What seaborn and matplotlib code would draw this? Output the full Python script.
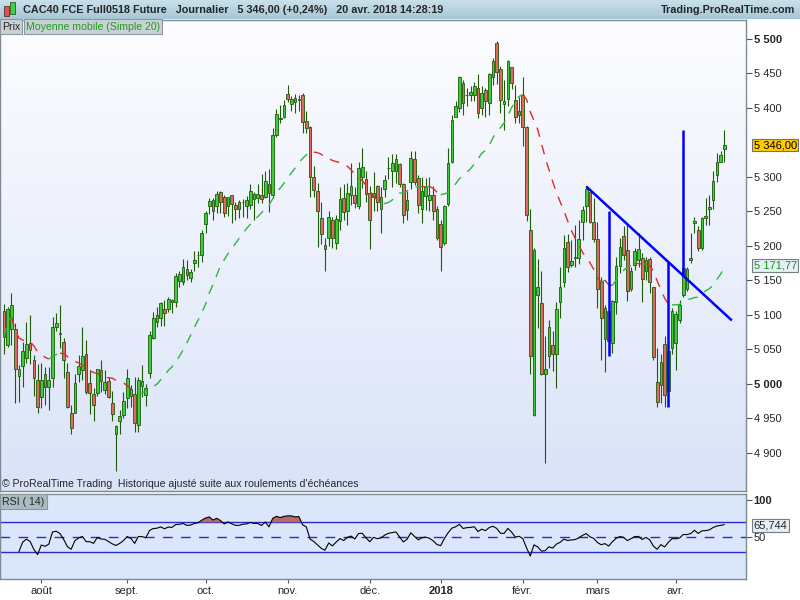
import numpy as np
import pandas as pd
import matplotlib
matplotlib.use("Agg")
import matplotlib.pyplot as plt
import seaborn as sns
from matplotlib.colors import LinearSegmentedColormap
from matplotlib.transforms import blended_transform_factory
from matplotlib.patches import Rectangle

# ---------------- data ----------------
start_date = "2017-07-18"
end_date = "2018-04-20"
holidays = ["2017-12-25", "2017-12-26", "2018-01-01", "2018-03-30", "2018-04-02"]

opens = [5105, 5057, 5079, 5079, 5012, 5026, 5037, 5059, 5034, 5006,
         4981, 5014, 4996, 5009, 5083, 5073, 5061, 5017, 4958, 4958,
         5015, 5020, 5043, 5001, 4985, 4987, 5020, 4991, 5004, 4973,
         4928, 4947, 4955, 4979, 4983, 4985, 4940, 4997, 4984, 5016,
         5066, 5090, 5095, 5108, 5109, 5119, 5118, 5149, 5147, 5166,
         5153, 5175, 5186, 5186, 5231, 5258, 5267, 5258, 5278, 5271,
         5258, 5273, 5259, 5263, 5263, 5257, 5259, 5268, 5269, 5273,
         5271, 5289, 5273, 5360, 5383, 5387, 5420, 5405, 5414, 5411,
         5419, 5381, 5372, 5300, 5280, 5241, 5201, 5212, 5238, 5204,
         5236, 5269, 5251, 5273, 5273, 5258, 5299, 5297, 5276, 5271,
         5287, 5253, 5283, 5312, 5308, 5308, 5318, 5289, 5252, 5292,
         5326, 5298, 5253, 5272, 5266, 5274, 5253, 5231, 5204, 5261,
         5321, 5387, 5400, 5436, 5418, 5419, 5418, 5428, 5399, 5426,
         5407, 5445, 5494, 5456, 5406, 5412, 5459, 5411, 5390, 5419,
         5372, 5223, 4955, 5129, 5117, 5015, 5041, 5057, 5043, 5119,
         5147, 5205, 5172, 5183, 5183, 5235, 5257, 5278, 5235, 5210,
         5147, 5065, 5105, 5059, 5118, 5171, 5214, 5194, 5137, 5172,
         5180, 5182, 5163, 5181, 5140, 5003, 4998, 5058, 4990, 5052,
         5059, 5093, 5129, 5137, 5179, 5233, 5223, 5197, 5241, 5253,
         5266, 5303, 5322, 5340]
highs = [5116, 5112, 5132, 5088, 5027, 5061, 5090, 5100, 5042, 5029,
         5030, 5024, 5024, 5097, 5103, 5114, 5066, 5031, 4969, 5015,
         5042, 5082, 5064, 5020, 4994, 5022, 5034, 5020, 5010, 4990,
         4941, 4962, 4989, 5022, 4998, 5010, 5010, 5027, 5000, 5076,
         5104, 5111, 5119, 5122, 5126, 5123, 5160, 5164, 5181, 5180,
         5166, 5192, 5192, 5223, 5251, 5269, 5269, 5279, 5279, 5274,
         5271, 5274, 5263, 5267, 5268, 5272, 5289, 5278, 5290, 5304,
         5309, 5311, 5370, 5398, 5404, 5411, 5433, 5417, 5420, 5419,
         5421, 5395, 5373, 5315, 5291, 5264, 5211, 5250, 5242, 5245,
         5285, 5290, 5291, 5320, 5285, 5321, 5341, 5308, 5286, 5307,
         5288, 5285, 5303, 5329, 5333, 5333, 5320, 5291, 5279, 5337,
         5337, 5303, 5300, 5298, 5299, 5286, 5257, 5238, 5259, 5341,
         5390, 5410, 5446, 5440, 5429, 5432, 5437, 5449, 5432, 5429,
         5450, 5472, 5496, 5460, 5440, 5469, 5459, 5433, 5416, 5444,
         5373, 5254, 5197, 5181, 5163, 5069, 5093, 5076, 5119, 5169,
         5215, 5217, 5208, 5230, 5238, 5257, 5286, 5283, 5269, 5235,
         5155, 5114, 5125, 5122, 5184, 5211, 5229, 5230, 5170, 5197,
         5218, 5189, 5184, 5184, 5141, 5052, 5044, 5069, 5060, 5110,
         5105, 5122, 5197, 5170, 5218, 5242, 5228, 5242, 5269, 5274,
         5308, 5334, 5337, 5368]
lows = [5044, 5053, 5056, 4973, 4974, 4996, 5030, 5029, 4982, 4958,
        4965, 4969, 4963, 4996, 5076, 5052, 5008, 4965, 4927, 4958,
        5003, 5006, 4986, 4957, 4947, 4982, 4989, 4986, 4979, 4947,
        4874, 4927, 4950, 4965, 4966, 4931, 4931, 4981, 4968, 5008,
        5065, 5082, 5084, 5084, 5104, 5103, 5112, 5140, 5144, 5151,
        5147, 5164, 5170, 5176, 5218, 5246, 5237, 5247, 5247, 5242,
        5243, 5233, 5238, 5240, 5242, 5241, 5253, 5237, 5262, 5262,
        5269, 5249, 5269, 5357, 5378, 5385, 5408, 5395, 5393, 5395,
        5363, 5363, 5270, 5270, 5198, 5203, 5163, 5200, 5197, 5195,
        5223, 5238, 5230, 5259, 5255, 5254, 5284, 5264, 5195, 5250,
        5251, 5219, 5271, 5297, 5285, 5291, 5285, 5233, 5238, 5283,
        5288, 5247, 5233, 5252, 5250, 5238, 5209, 5164, 5201, 5257,
        5320, 5386, 5394, 5390, 5402, 5409, 5410, 5385, 5390, 5387,
        5390, 5433, 5434, 5392, 5367, 5403, 5427, 5378, 5378, 5344,
        5236, 5014, 4954, 5081, 5013, 4886, 5023, 5019, 4994, 5095,
        5140, 5162, 5169, 5169, 5173, 5208, 5235, 5233, 5206, 5110,
        5035, 5018, 5045, 5045, 5102, 5160, 5179, 5120, 5135, 5165,
        5170, 5118, 5151, 5131, 5034, 4966, 4973, 4966, 4968, 5044,
        5020, 5088, 5126, 5134, 5175, 5218, 5192, 5194, 5230, 5230,
        5254, 5293, 5321, 5321]
closes = [5068, 5108, 5114, 5021, 5022, 5048, 5058, 5049, 5008, 4966,
          5006, 4996, 5006, 5082, 5088, 5074, 5034, 4967, 4936, 5002,
          5026, 5041, 4988, 4987, 4969, 5021, 5005, 5003, 4981, 4957,
          4939, 4954, 4975, 5008, 4992, 4944, 5006, 5004, 4994, 5071,
          5095, 5100, 5117, 5103, 5123, 5121, 5156, 5159, 5169, 5158,
          5162, 5179, 5187, 5218, 5247, 5265, 5250, 5275, 5264, 5247,
          5270, 5261, 5253, 5253, 5263, 5266, 5279, 5275, 5275, 5268,
          5294, 5276, 5361, 5391, 5385, 5404, 5412, 5412, 5408, 5412,
          5380, 5370, 5300, 5281, 5251, 5217, 5195, 5242, 5211, 5239,
          5268, 5249, 5276, 5287, 5262, 5312, 5314, 5275, 5238, 5277,
          5264, 5271, 5296, 5313, 5320, 5326, 5289, 5244, 5266, 5327,
          5293, 5259, 5280, 5285, 5274, 5250, 5211, 5198, 5258, 5320,
          5382, 5403, 5444, 5407, 5419, 5423, 5432, 5392, 5422, 5410,
          5449, 5468, 5451, 5411, 5409, 5468, 5436, 5386, 5395, 5372,
          5245, 5041, 5194, 5141, 5015, 5021, 5082, 5044, 5109, 5140,
          5197, 5169, 5178, 5184, 5210, 5252, 5283, 5234, 5210, 5138,
          5095, 5110, 5062, 5120, 5171, 5198, 5187, 5135, 5163, 5192,
          5195, 5152, 5180, 5147, 5039, 4974, 5032, 4984, 5048, 5105,
          5101, 5114, 5168, 5167, 5183, 5236, 5197, 5240, 5243, 5256,
          5294, 5321, 5331, 5346]

month_labels = ["août", "sept.", "oct.", "nov.", "déc.", "2018", "févr.", "mars", "avr."]
price_ticks = [4900, 4950, 5000, 5050, 5100, 5150, 5200, 5250, 5300, 5400, 5450, 5500]
bold_price_ticks = [5000, 5500]
last_price = 5346.00
last_sma = 5171.77
last_rsi = 65.744
sma_period = 20
rsi_period = 14

# hand-drawn annotations (session index, price)
trend_idx = [156, 195]
trend_price = [5286, 5092]
vline_idx = [162, 178, 182]
vline_low = [5041, 4967, 5158]
vline_high = [5251, 5177, 5367]

header_title = "CAC40 FCE Full0518 Future   Journalier   5 346,00 (+0,24%)   20 avr. 2018 14:28:19"
header_site = "Trading.ProRealTime.com"
footer_note = "© ProRealTime Trading  Historique ajusté suite aux roulements d'échéances"

# ---------------- derived ----------------
dates = pd.bdate_range(start_date, end_date)
dates = dates[~dates.isin(pd.to_datetime(holidays))]
n = len(closes)
x = np.arange(n)
O = np.array(opens, float); Hh = np.array(highs, float)
L = np.array(lows, float); C = np.array(closes, float)

cs = pd.Series(C)
sma = cs.rolling(sma_period, min_periods=1).mean().to_numpy()
delta = cs.diff()
gain = delta.clip(lower=0)
loss = (-delta).clip(lower=0)
ag = gain.ewm(alpha=1 / rsi_period, adjust=True, min_periods=4).mean()
al = loss.ewm(alpha=1 / rsi_period, adjust=True, min_periods=4).mean()
rsi = (100 - 100 / (1 + ag / al)).to_numpy()

month_pos = []
seen = set()
for i, d in enumerate(dates[:n]):
    key = (d.year, d.month)
    if key not in seen:
        seen.add(key)
        month_pos.append(i)
month_pos = month_pos[1:]  # first partial month (July) has no label

# ---------------- style ----------------
sns.set_theme(style="white")
plt.rcParams['font.family'] = ['Liberation Sans', 'DejaVu Sans']
plt.rcParams['font.size'] = 8

W, Hpx = 800, 600
def fx(px): return px / W
def fy(py): return 1 - py / Hpx

fig = plt.figure(figsize=(8, 6), dpi=100, facecolor='white')

# header
axh = fig.add_axes([0, fy(19), 1, 19 / Hpx])
axh.imshow(np.linspace(0, 1, 64).reshape(-1, 1), aspect='auto', origin='upper',
           cmap=LinearSegmentedColormap.from_list('h', ['#c9e0ea', '#a7c7d6']),
           extent=[0, 1, 0, 1])
axh.set_axis_off()
fig.text(fx(23), fy(10), header_title, fontsize=7.8, fontweight='bold', va='center', ha='left')
fig.text(fx(795), fy(10), header_site, fontsize=7.8, fontweight='bold', va='center', ha='right')
# header icon
fig.patches.append(Rectangle((fx(4), fy(16)), fx(5), 10 / Hpx, transform=fig.transFigure,
                             fc='#e05050', ec='#603030', lw=0.6))
fig.patches.append(Rectangle((fx(10), fy(14)), fx(5), 12 / Hpx, transform=fig.transFigure,
                             fc='#40d040', ec='#206020', lw=0.6))

xmin, xmax = -1.07, 198.8
pmin, pmax = 4845, 5527

ax = fig.add_axes([0, fy(491), fx(746), fy(20) - fy(491)])
axr = fig.add_axes([0, fy(579), fx(746), fy(494) - fy(579)])

# price background gradient
ax.imshow(np.linspace(0, 1, 256).reshape(-1, 1), aspect='auto', origin='upper',
          cmap=LinearSegmentedColormap.from_list('p', ['#fdfdff', '#dae3f8']),
          extent=[xmin, xmax, pmin, pmax], zorder=0)

edge = '#1f5a0a'
up = C >= O
body_lo = np.minimum(O, C)
body_h = np.maximum(np.abs(C - O), 0.9)
ax.vlines(x, L, Hh, color=edge, lw=0.8, zorder=2)
ax.bar(x, body_h, bottom=body_lo, width=0.72,
       color=np.where(up, '#3ccc3c', '#e0685e'), edgecolor=edge, linewidth=0.6, zorder=3)

# SMA coloured by slope, dashed
dirs = np.diff(sma) >= 0
s = 0
for k in range(1, len(dirs) + 1):
    if k == len(dirs) or dirs[k] != dirs[s]:
        col = '#2db83a' if dirs[s] else '#e02a2a'
        ax.plot(x[s:k + 1], sma[s:k + 1], color=col, lw=1.0,
                linestyle=(0, (7, 6)), zorder=4)
        s = k

# annotations
ax.plot(trend_idx, trend_price, color='#0000ff', lw=1.8, zorder=5, solid_capstyle='butt')
ax.vlines(vline_idx, vline_low, vline_high, color='#0000ff', lw=1.8, zorder=5)

ax.set_xlim(xmin, xmax)
ax.set_ylim(pmin, pmax)
ax.yaxis.tick_right()
ax.set_yticks(price_ticks)
ax.set_yticklabels([f"{t:,}".replace(",", " ") for t in price_ticks])
for lbl, t in zip(ax.get_yticklabels(), price_ticks):
    if t in bold_price_ticks:
        lbl.set_fontweight('bold')
ax.tick_params(axis='y', direction='out', length=4, width=0.8, color='#555555',
               pad=1.5, labelsize=8, right=True, left=False)
ax.tick_params(axis='x', bottom=False, labelbottom=False)
for sp in ax.spines.values():
    sp.set_color('#7d8a93'); sp.set_linewidth(1.0)

tr = blended_transform_factory(ax.transAxes, ax.transData)
ax.text(1 + 7.5 / 746, last_price, f"{last_price:,.2f}".replace(",", " ").replace(".", ","),
        transform=tr, ha='left', va='center', fontsize=8, color='black', clip_on=False,
        bbox=dict(boxstyle='square,pad=0.12', fc='#ffcc00', ec='#707070', lw=0.8))
ax.text(1 + 7.5 / 746, last_sma, f"{last_sma:,.2f}".replace(",", " ").replace(".", ","),
        transform=tr, ha='left', va='center', fontsize=8, color='#119911', clip_on=False,
        bbox=dict(boxstyle='square,pad=0.12', fc='#e6eef6', ec='#708080', lw=0.8))

# legend boxes and footer
fig.text(fx(2), fy(26.5), "Prix", fontsize=7.6, va='center', ha='left',
         bbox=dict(boxstyle='square,pad=0.2', fc='#c9d1d6', ec='#8c989e', lw=0.8))
fig.text(fx(26), fy(26.5), "Moyenne mobile (Simple 20)", fontsize=7.6, va='center', ha='left',
         color='#1e9e1e', bbox=dict(boxstyle='square,pad=0.2', fc='#c9d1d6', ec='#8c989e', lw=0.8))
fig.text(fx(2), fy(484), footer_note, fontsize=7.6, va='center', ha='left')

# ---------------- RSI panel ----------------
axr.set_facecolor('#dce6fb')
mask = ~np.isnan(rsi)
sns.lineplot(x=x[mask], y=rsi[mask], ax=axr, color='black', lw=0.8, zorder=4)
axr.fill_between(x, rsi, 70, where=np.nan_to_num(rsi) > 70, interpolate=True,
                 color='#b86a6a', zorder=3, lw=0)
axr.axhline(70, color='#2a2ad4', lw=1.0, zorder=2)
axr.axhline(30, color='#2a2ad4', lw=1.0, zorder=2)
axr.axhline(50, color='#2a2ad4', lw=1.0, linestyle=(0, (7, 6)), zorder=2)
axr.set_xlim(xmin, xmax)
axr.set_ylim(-6, 108)
axr.yaxis.tick_right()
axr.set_yticks([50, 100])
axr.set_yticklabels(["50", "100"])
axr.get_yticklabels()[1].set_fontweight('bold')
axr.get_yticklabels()[1].set_fontsize(9)
axr.tick_params(axis='y', direction='out', length=4, width=0.8, color='#555555',
                pad=1.5, labelsize=8, right=True, left=False)
axr.set_xticks(month_pos)
axr.set_xticklabels(month_labels)
for lbl, t in zip(axr.get_xticklabels(), month_labels):
    if t == "2018":
        lbl.set_fontweight('bold')
axr.tick_params(axis='x', direction='out', length=3, width=0.8, color='#555555',
                pad=2, labelsize=8, bottom=True)
axr.set_xlabel(""); axr.set_ylabel("")
for sp in axr.spines.values():
    sp.set_color('#7d8a93'); sp.set_linewidth(1.0)
trr = blended_transform_factory(axr.transAxes, axr.transData)
axr.text(1 + 7.5 / 746, last_rsi, f"{last_rsi:.3f}".replace(".", ","), transform=trr,
         ha='left', va='center', fontsize=8, clip_on=False,
         bbox=dict(boxstyle='square,pad=0.12', fc='#e6eef6', ec='#708080', lw=0.8))
axr.text(0.003, 0.97, "RSI ( 14)", transform=axr.transAxes, fontsize=7.6, va='top', ha='left',
         bbox=dict(boxstyle='square,pad=0.2', fc='#a9bcc4', ec='#8c989e', lw=0.8), zorder=6)

fig.savefig("out.png", dpi=100, facecolor='white')
